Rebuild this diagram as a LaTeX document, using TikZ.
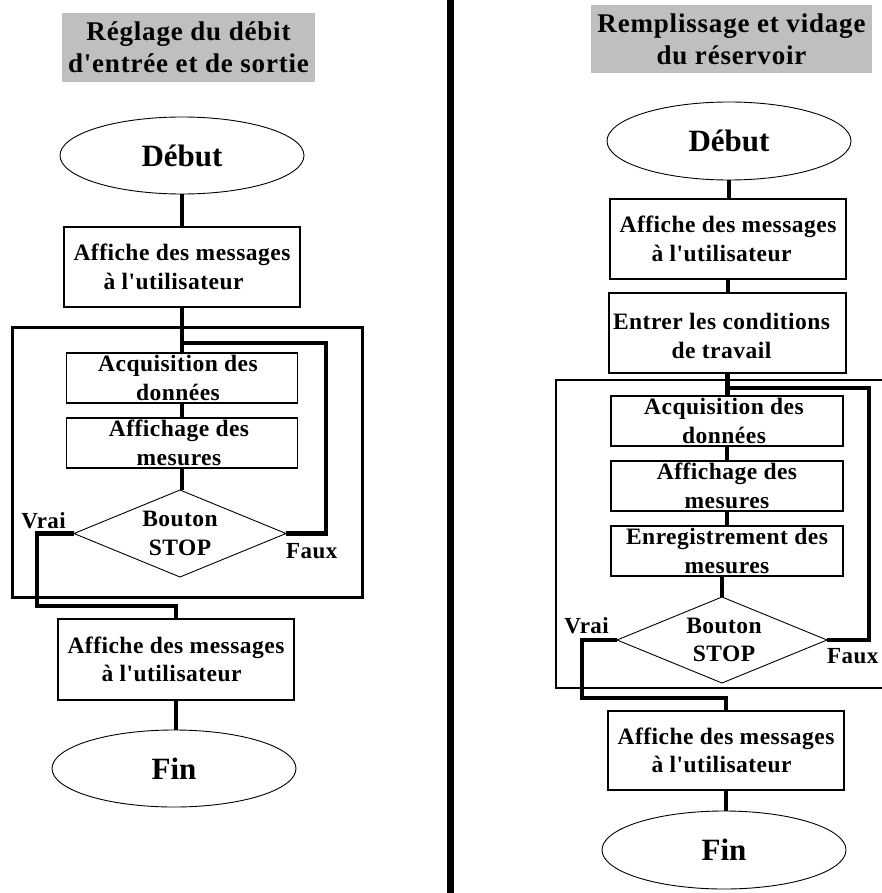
\documentclass[tikz,border=0pt]{standalone}
\usepackage{fontspec}
\setmainfont{Liberation Serif}
\newfontfamily\bodyfont[LetterSpace=2]{Liberation Serif}
\newfontfamily\titlefont[LetterSpace=3]{Liberation Serif}
\usetikzlibrary{shapes.geometric}
\begin{document}
\begin{tikzpicture}[x=1pt,y=-1pt,
  box/.style={draw, rectangle, line width=1.3pt, inner sep=0pt, outer sep=0pt},
  ell/.style={draw, ellipse, line width=0.9pt, minimum width=244pt, minimum height=77pt, inner sep=0pt, outer sep=0pt, font=\bfseries\fontsize{31}{36}\selectfont},
  dia/.style={draw, diamond, line width=0.9pt, inner sep=0pt, outer sep=0pt, aspect=2.4},
  txt/.style={font=\bodyfont\bfseries\fontsize{23.5}{28.5}\selectfont, align=center, inner sep=0pt},
  txtl/.style={font=\bodyfont\bfseries\fontsize{23.5}{28.5}\selectfont, align=left, inner sep=0pt},
  lbl/.style={font=\bodyfont\bfseries\fontsize{23}{28.5}\selectfont, inner sep=0pt},
  ttl/.style={fill=black!25, rectangle, inner sep=0pt, font=\titlefont\bfseries\fontsize{27}{32}\selectfont, align=center},
  conn/.style={line width=4.5pt},
  frm/.style={line width=3pt}
]
\useasboundingbox (0,0) rectangle (881,893);
\fill[white] (0,0) rectangle (881,893);

% separator
\draw[line width=7pt] (450,-2) -- (450,895);

% ================= LEFT PANEL =================
\node[ttl, minimum width=253pt, minimum height=69pt] (tL) at (188.5,47.5) {Réglage du débit\\d'entrée et de sortie};

\node[ell] (debL) at (182,155.5) {Début};
\node[box, minimum width=236pt, minimum height=80pt] (aff1L) at (182,267) {};
\node[txtl] (aff1Lt) at (aff1L) {Affiche des messages\\\hspace*{30pt}à l'utilisateur};

\draw[frm] (12,327) rectangle (362,597);

\node[box, minimum width=231pt, minimum height=50pt] (acqL) at (182,378) {};
\node[txt, xshift=-4pt] (acqLt) at (acqL) {Acquisition des\\données};
\node[box, minimum width=231pt, minimum height=50pt] (affchL) at (182,443) {};
\node[txt, xshift=-3pt] (affchLt) at (affchL) {Affichage des\\mesures};
\node[dia, minimum width=212pt, minimum height=87pt] (dL) at (180,533.5) {};
\node[txt] (dLt) at (dL) {Bouton\\STOP};
\node[lbl, anchor=base east] (vraiL) at (66,528) {Vrai};
\node[lbl, anchor=base west] (fauxL) at (286,558) {Faux};

\node[box, minimum width=236pt, minimum height=81pt] (aff2L) at (176,659.5) {};
\node[txtl] (aff2Lt) at (aff2L) {Affiche des messages\\\hspace*{34pt}à l'utilisateur};
\node[ell] (finL) at (174,768.5) {Fin};

\coordinate (jL) at (182,343);
\coordinate (cL) at (326,343);
\coordinate (vL) at (37,606);

\draw[conn] (debL.south) -- (debL.south |- aff1L.north);
\draw[conn] (aff1L.south) -- (aff1L.south |- acqL.north);
\draw[conn] (acqL.south) -- (acqL.south |- affchL.north);
\draw[conn] (affchL.south) -- (affchL.south |- dL.north);
\draw[conn] (dL.east) -| (cL) -- (jL);
\draw[conn] (dL.west) -| (vL) -| (aff2L.north);
\draw[conn] (aff2L.south) -- (aff2L.south |- finL.north);

% ================= RIGHT PANEL =================
\node[ttl, minimum width=281pt, minimum height=68pt] (tR) at (731.5,39) {Remplissage et vidage\\du réservoir};

\node[ell, minimum height=78pt] (debR) at (729,141) {Début};
\node[box, minimum width=236pt, minimum height=80pt] (aff1R) at (728,239) {};
\node[txtl] (aff1Rt) at (aff1R) {Affiche des messages\\\hspace*{32pt}à l'utilisateur};
\node[box, minimum width=237pt, minimum height=80pt] (entR) at (727.5,333) {};
\node[txt, xshift=-6pt, yshift=-3pt] (entRt) at (entR) {Entrer les conditions\\de travail};

\draw[frm, line width=2.6pt] (884,380) -- (556,380) -- (556,688) -- (884,688);

\node[box, minimum width=232pt, minimum height=50pt] (acqR) at (727,421) {};
\node[txt, xshift=-3pt] (acqRt) at (acqR) {Acquisition des\\données};
\node[box, minimum width=232pt, minimum height=50pt] (affchR) at (727,486) {};
\node[txt] (affchRt) at (affchR) {Affichage des\\mesures};
\node[box, minimum width=232pt, minimum height=50pt] (enrR) at (727,551) {};
\node[txt] (enrRt) at (enrR) {Enregistrement des\\mesures};
\node[dia, minimum width=210pt, minimum height=86pt] (dR) at (722,640) {};
\node[txt, xshift=2pt] (dRt) at (dR) {Bouton\\STOP};
\node[lbl, anchor=base east] (vraiR) at (609,633) {Vrai};
\node[lbl, anchor=base west] (fauxR) at (827,663) {Faux};

\node[box, minimum width=236pt, minimum height=79pt] (aff2R) at (726,750.5) {};
\node[txtl] (aff2Rt) at (aff2R) {Affiche des messages\\\hspace*{34pt}à l'utilisateur};
\node[ell, minimum height=78pt] (finR) at (724,850) {Fin};

\coordinate (jR) at (727,388);
\coordinate (cR) at (869,388);
\coordinate (vR) at (582,698);

\draw[conn] (debR.south) -- (debR.south |- aff1R.north);
\draw[conn] (aff1R.south) -- (aff1R.south |- entR.north);
\draw[conn] (entR.south) -- (entR.south |- acqR.north);
\draw[conn] (acqR.south) -- (acqR.south |- affchR.north);
\draw[conn] (affchR.south) -- (affchR.south |- enrR.north);
\draw[conn] (dR.north) -- (dR.north |- enrR.south);
\draw[conn] (dR.east) -| (cR) -- (jR);
\draw[conn] (dR.west) -| (vR) -| (aff2R.north);
\draw[conn] (aff2R.south) -- (aff2R.south |- finR.north);
\end{tikzpicture}
\end{document}
